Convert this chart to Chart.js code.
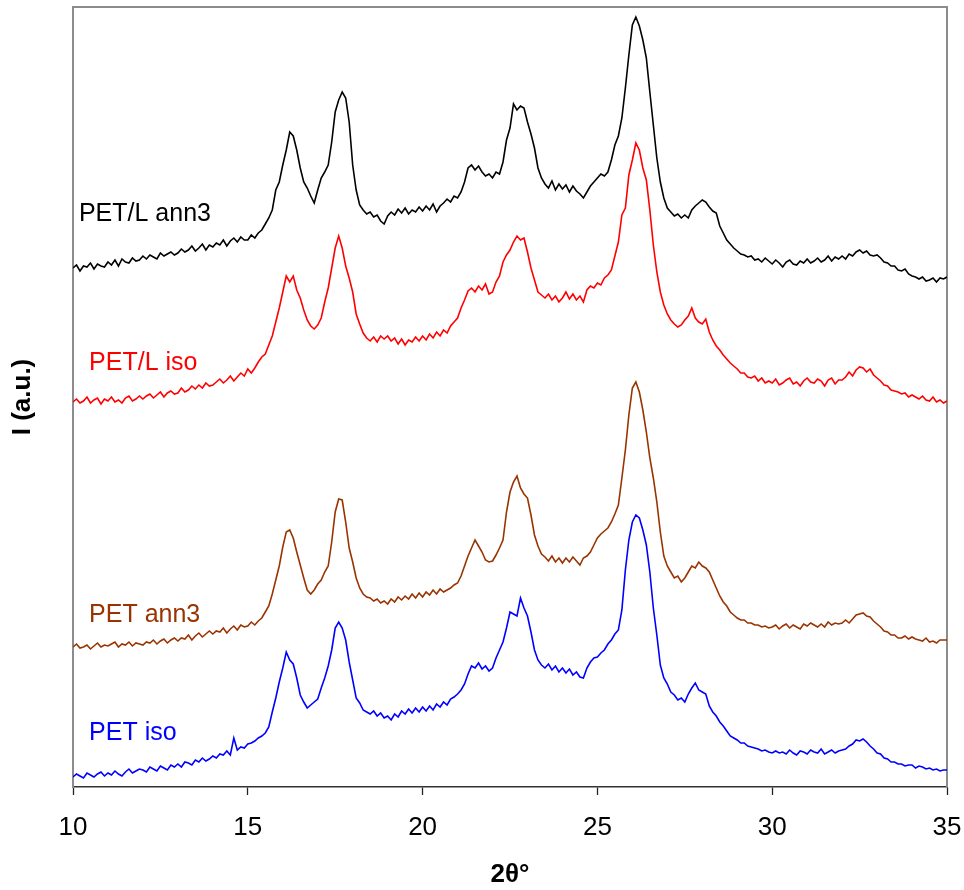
<!DOCTYPE html>
<html lang="en">
<head>
    <meta charset="UTF-8">
    <title>XRD - PET / PET-L</title>
    <script src="https://cdn.jsdelivr.net/npm/chart.js"></script>
    <style>
        html, body { margin: 0; padding: 0; background: #fff; }
        canvas { display: block; }
    </style>
</head>
<body>
    <canvas id="xrd" width="964" height="890"></canvas>

    <script>
        // 2theta scan, 10 to 35 deg, 0.1 deg step (251 points per pattern)
        const thetaStart = 10;
        const thetaStep = 0.1;
        const xTicks = [10, 15, 20, 25, 30, 35];

        // intensities (a.u., patterns already offset vertically)
        const petLAnn3 = [
            732,735,729,734,733,737,731,736,734,733,
            738,735,740,734,741,738,737,742,739,740,
            744,741,745,743,741,747,744,746,748,745,
            747,751,748,750,754,749,752,756,750,755,
            753,757,755,760,754,759,762,758,763,760,
            760,765,762,767,770,776,782,790,810,818,
            835,850,868,864,850,832,818,812,804,797,
            810,822,828,835,858,888,900,908,902,878,
            835,810,795,790,786,788,783,785,779,776,
            784,788,785,791,787,792,786,790,788,793,
            789,794,790,796,788,794,797,801,798,804,
            802,808,818,832,835,830,834,828,824,826,
            822,828,826,838,860,872,896,890,894,892,
            878,866,852,832,822,816,812,819,810,816,
            811,815,808,814,809,806,802,808,814,818,
            822,826,824,828,840,855,864,882,912,945,
            975,983,974,960,942,908,875,842,818,802,
            792,788,784,786,782,785,782,790,794,797,
            800,798,793,789,787,774,767,760,756,752,
            749,746,745,743,744,740,741,738,742,739,
            736,740,737,733,738,740,736,735,739,737,
            741,737,739,742,738,740,744,739,743,741,
            744,741,746,744,748,750,747,749,745,744,
            745,742,738,737,734,734,730,729,731,726,
            724,723,721,723,719,720,722,718,722,721,
            723
        ];
        const petLIso = [
            598,601,597,599,603,597,600,602,596,601,
            599,603,598,600,597,602,604,599,601,604,
            601,604,606,602,605,608,603,607,609,606,
            607,612,608,610,614,611,615,612,617,614,
            615,618,621,617,620,624,619,623,627,624,
            631,627,632,638,643,646,655,664,678,692,
            708,724,718,724,710,702,690,680,674,671,
            675,682,698,712,732,752,764,752,734,722,
            708,686,676,667,662,659,663,658,664,661,
            664,659,662,656,661,655,660,658,663,659,
            664,660,666,662,668,664,670,667,674,678,
            682,692,700,709,712,708,714,710,716,706,
            708,718,724,738,745,750,758,764,760,762,
            748,732,720,708,705,702,706,700,704,698,
            702,708,701,706,700,704,698,710,714,712,
            717,715,722,725,730,744,758,785,792,825,
            840,857,850,832,820,790,755,728,708,695,
            686,680,676,673,675,680,684,692,682,678,
            676,681,668,660,654,650,645,641,637,634,
            631,627,627,623,622,624,619,622,617,619,
            617,621,615,617,620,622,616,618,614,619,
            622,618,617,621,619,614,620,622,616,620,
            620,623,628,624,630,633,632,628,631,625,
            622,619,615,614,610,609,608,606,607,603,
            605,603,601,604,600,599,603,598,600,597,
            599
        ];
        const petAnn3 = [
            353,356,352,353,355,351,354,357,353,355,
            354,356,358,353,356,355,358,354,357,356,
            355,358,357,360,356,359,361,357,360,362,
            359,362,361,365,360,364,367,363,366,369,
            366,369,368,372,367,371,374,370,375,373,
            374,378,375,379,382,388,394,406,420,434,
            453,468,470,462,448,435,422,410,406,410,
            416,420,428,434,458,488,501,500,478,452,
            438,422,412,406,403,402,399,401,397,399,
            396,401,398,403,400,404,401,406,402,407,
            403,408,405,410,406,411,408,410,412,415,
            417,424,434,444,452,460,454,448,440,438,
            439,445,452,460,488,508,518,524,512,506,
            502,485,465,454,446,443,439,444,438,442,
            437,442,438,443,439,435,442,444,448,455,
            462,466,469,472,478,486,495,522,550,585,
            612,618,608,590,568,542,522,498,468,444,
            434,428,422,424,418,422,428,434,432,438,
            434,432,428,420,412,404,398,394,388,385,
            382,380,380,377,377,375,375,373,374,372,
            373,375,371,374,376,372,375,373,371,376,
            374,377,375,373,376,373,378,375,377,376,
            377,380,377,381,385,386,387,384,383,379,
            376,373,369,368,365,365,362,362,364,361,
            363,361,360,359,362,358,359,357,360,360,
            360
        ];
        const petIso = [
            223,226,224,222,227,225,223,226,228,224,
            227,225,229,226,224,228,231,227,229,231,
            230,228,233,231,229,234,232,230,235,233,
            236,233,238,237,235,240,238,242,239,241,
            244,242,246,245,249,245,262,250,253,252,
            256,257,259,262,264,267,273,288,302,318,
            332,348,340,336,322,305,298,292,295,298,
            301,312,322,334,350,372,378,372,360,338,
            320,302,297,290,288,286,289,284,287,282,
            284,280,286,283,289,286,291,287,292,288,
            293,289,294,290,296,293,298,295,301,303,
            306,310,316,326,334,332,337,331,334,329,
            332,342,350,358,372,388,386,384,402,392,
            384,368,350,340,335,332,336,330,334,328,
            332,327,331,325,328,323,322,332,338,342,
            343,347,350,356,360,366,370,390,430,460,
            478,485,482,470,455,428,392,365,335,322,
            316,308,305,300,302,298,306,312,317,310,
            308,306,294,288,284,278,274,269,264,262,
            260,257,257,254,253,252,251,249,250,248,
            247,249,247,248,246,250,247,245,249,248,
            246,250,248,247,251,246,248,250,247,249,
            250,251,254,256,260,259,261,258,254,251,
            247,246,242,241,238,238,236,236,234,235,
            235,232,234,233,231,232,230,231,229,230,
            230
        ];

        const seriesNames = ['PET/L ann3', 'PET/L iso', 'PET ann3', 'PET iso'];
        const seriesColors = ['#000000', '#ff0000', '#993300', '#0000ff'];
        const seriesValues = [petLAnn3, petLIso, petAnn3, petIso];

        // where each pattern name is written (2theta, intensity)
        const nameAnchors = [[10.17, 786], [10.46, 637], [10.46, 385], [10.46, 267]];

        const toPoints = values => values.map((v, i) => ({
            x: +(thetaStart + i * thetaStep).toFixed(1),
            y: v
        }));

        // gray box around the plot area (bottom edge is the x axis itself)
        const plotFrame = {
            id: 'plotFrame',
            beforeDatasetsDraw(chart) {
                const { ctx, chartArea: a } = chart;
                ctx.save();
                ctx.strokeStyle = '#8c8c8c';
                ctx.lineWidth = 2;
                ctx.beginPath();
                ctx.moveTo(a.left, a.bottom);
                ctx.lineTo(a.left, a.top);
                ctx.lineTo(a.right, a.top);
                ctx.lineTo(a.right, a.bottom);
                ctx.stroke();
                ctx.restore();
            }
        };

        const patternNames = {
            id: 'patternNames',
            afterDatasetsDraw(chart) {
                const { ctx, scales } = chart;
                ctx.save();
                ctx.font = '25px "Liberation Sans", Arial, sans-serif';
                ctx.textAlign = 'left';
                ctx.textBaseline = 'middle';
                seriesNames.forEach((name, i) => {
                    ctx.fillStyle = seriesColors[i];
                    ctx.fillText(name,
                        scales.x.getPixelForValue(nameAnchors[i][0]),
                        scales.y.getPixelForValue(nameAnchors[i][1]));
                });
                ctx.restore();
            }
        };

        const ctx = document.getElementById('xrd').getContext('2d');
        const xrdChart = new Chart(ctx, {
            type: 'line',
            data: {
                datasets: seriesValues.map((values, i) => ({
                    label: seriesNames[i],
                    data: toPoints(values),
                    borderColor: seriesColors[i],
                    borderWidth: 1.6,
                    pointRadius: 0,
                    tension: 0,
                    fill: false
                }))
            },
            options: {
                responsive: false,
                animation: false,
                devicePixelRatio: 1,
                layout: {
                    padding: { top: 7, right: 17, bottom: 0, left: 0 }
                },
                plugins: {
                    legend: { display: false },
                    tooltip: { enabled: false }
                },
                scales: {
                    x: {
                        type: 'linear',
                        min: 10,
                        max: 35,
                        afterFit: scale => {
                            scale.height = 103;
                            // let the end labels hang past the plot edges
                            scale.paddingLeft = 0;
                            scale.paddingRight = 0;
                        },
                        afterBuildTicks: scale => {
                            scale.ticks = xTicks.map(v => ({ value: v }));
                        },
                        ticks: {
                            color: '#000',
                            padding: 17,
                            maxRotation: 0,
                            font: { family: '"Liberation Sans", Arial, sans-serif', size: 26 }
                        },
                        grid: {
                            drawOnChartArea: false,
                            drawTicks: true,
                            tickLength: 8,
                            tickWidth: 1.3,
                            tickColor: '#222'
                        },
                        border: { color: '#333', width: 1.5 },
                        title: {
                            display: true,
                            text: '2θ°',
                            color: '#000',
                            padding: { top: 0, bottom: 0 },
                            font: { family: '"Liberation Sans", Arial, sans-serif', size: 26, weight: 'bold' }
                        }
                    },
                    y: {
                        min: 213,
                        max: 993,
                        afterFit: scale => { scale.width = 73; },
                        ticks: { display: false },
                        grid: { display: false },
                        border: { color: '#8c8c8c', width: 2 },
                        title: {
                            display: true,
                            text: 'I (a.u.)',
                            color: '#000',
                            padding: { top: 7, bottom: 0 },
                            font: { family: '"Liberation Sans", Arial, sans-serif', size: 26, weight: 'bold' }
                        }
                    }
                }
            },
            plugins: [plotFrame, patternNames]
        });
    </script>
</body>
</html>
